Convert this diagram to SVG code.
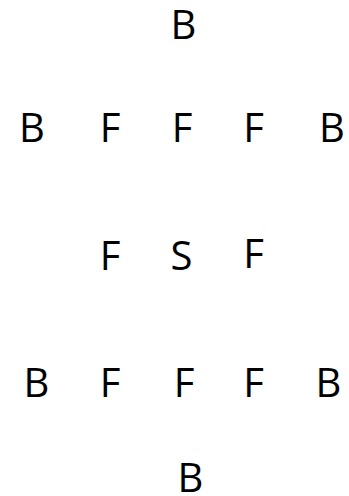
<svg xmlns="http://www.w3.org/2000/svg" width="349" height="496" viewBox="0 0 349 496">
<style>
text{font-family:"Open Sans","Liberation Sans",sans-serif;font-size:40px;fill:#000;text-anchor:middle}
</style>
<rect width="349" height="496" fill="#fff"/>
<g id="connectors"/>
<g id="n1"><text x="183.5" y="39">B</text></g>
<g id="n2"><text x="32" y="142">B</text></g>
<g id="n3"><text x="110" y="142">F</text></g>
<g id="n4"><text x="182" y="142">F</text></g>
<g id="n5"><text x="253.5" y="142">F</text></g>
<g id="n6"><text x="332" y="142">B</text></g>
<g id="n7"><text x="110" y="270">F</text></g>
<g id="n8"><text x="181.5" y="270">S</text></g>
<g id="n9"><text x="253.5" y="268">F</text></g>
<g id="n10"><text x="36.5" y="397">B</text></g>
<g id="n11"><text x="110" y="397">F</text></g>
<g id="n12"><text x="184" y="397">F</text></g>
<g id="n13"><text x="253.5" y="397">F</text></g>
<g id="n14"><text x="328.5" y="397">B</text></g>
<g id="n15"><text x="190.5" y="492">B</text></g>
</svg>
